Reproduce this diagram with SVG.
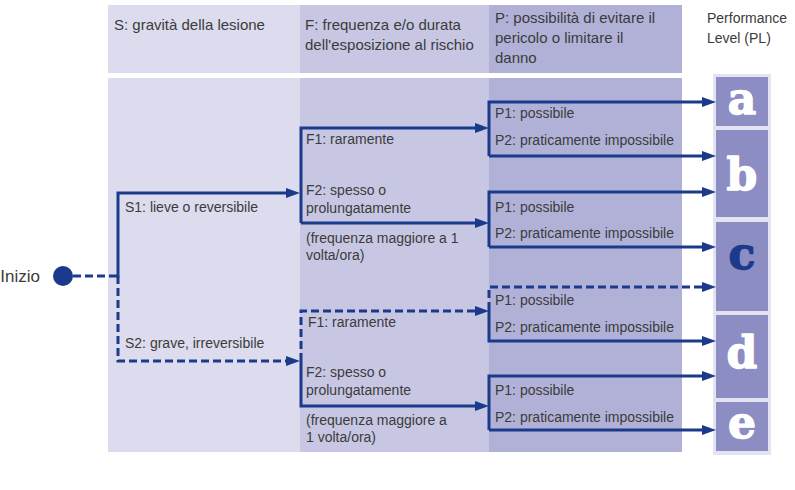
<svg xmlns="http://www.w3.org/2000/svg" width="795" height="490" viewBox="0 0 795 490">
  <defs>
    <style>
      .t { font-family: "Liberation Sans", Arial, sans-serif; font-size: 14px; fill: #3b3b3b; }
      .h { font-family: "Liberation Sans", Arial, sans-serif; font-size: 15px; fill: #3b3b3b; }
      .pl { font-family: "DejaVu Serif", "Liberation Serif", serif; font-size: 44px; font-weight: bold; text-anchor: middle; stroke-width: 1.4; stroke-linejoin: round; }
      .w { fill: #ffffff; stroke: #ffffff; }
      .k { fill: #1b3a8c; stroke: #1b3a8c; }
      .colS { fill: #dcdcee; }
      .colF { fill: #c7c7e3; }
      .colP { fill: #b1b1d7; }
      .box { fill: #8b8dc3; }
      .ln { fill: none; stroke: #1b3a8c; stroke-width: 3; stroke-linejoin: miter; }
      .d { stroke-dasharray: 8 4; }
      .arr { marker-end: url(#ah); }
    </style>
    <marker id="ah" markerUnits="userSpaceOnUse" markerWidth="14" markerHeight="10" refX="4" refY="5" orient="auto">
      <path d="M0,0 L14,5 L0,10 z" fill="#1b3a8c"/>
    </marker>
  </defs>

  <rect width="795" height="490" fill="#ffffff"/>

  <g id="columns">
    <rect class="colS" x="108" y="5" width="192" height="68"/>
    <rect class="colF" x="300" y="5" width="189" height="68"/>
    <rect class="colP" x="489" y="5" width="193" height="68"/>
    <rect class="colS" x="108" y="78" width="192" height="374"/>
    <rect class="colF" x="300" y="78" width="189" height="374"/>
    <rect class="colP" x="489" y="78" width="193" height="374"/>
  </g>

  <g id="headers">
    <text class="h" x="114" y="30">S: gravità della lesione</text>
    <text class="h" x="305" y="30">F: frequenza e/o durata</text>
    <text class="h" x="305" y="50">dell'esposizione al rischio</text>
    <text class="h" x="495" y="23">P: possibilità di evitare il</text>
    <text class="h" x="495" y="43">pericolo o limitare il</text>
    <text class="h" x="495" y="63">danno</text>
    <text class="t" x="707" y="23">Performance</text>
    <text class="t" x="707" y="43">Level (PL)</text>
  </g>

  <g id="pl-frame">
    <rect x="713" y="74" width="58" height="381" fill="#e3e3f1"/>
  </g>
  <g id="pl-a"><rect class="box" x="716" y="77" width="52" height="49"/><text class="pl w" x="742" y="114">a</text></g>
  <g id="pl-b"><rect class="box" x="716" y="130" width="52" height="87"/><text class="pl w" x="742" y="190">b</text></g>
  <g id="pl-c"><rect class="box" x="716" y="222" width="52" height="89"/><text class="pl k" x="742" y="269">c</text></g>
  <g id="pl-d"><rect class="box" x="716" y="315" width="52" height="83"/><text class="pl w" x="742" y="368">d</text></g>
  <g id="pl-e"><rect class="box" x="716" y="402" width="52" height="49"/><text class="pl w" x="742" y="438">e</text></g>

  <g id="start">
    <circle cx="63" cy="276" r="10" fill="#1b3a8c"/>
    <text x="40" y="282" text-anchor="end" style="font-family: 'Liberation Sans', Arial, sans-serif; font-size: 17px; fill: #3b3b3b;">Inizio</text>
  </g>

  <g id="s-labels">
    <text class="t" x="125" y="212">S1: lieve o reversibile</text>
    <text class="t" x="125" y="348">S2: grave, irreversibile</text>
  </g>

  <g id="f-upper">
    <text class="t" x="306" y="144">F1: raramente</text>
    <text class="t" x="306" y="195">F2: spesso o</text>
    <text class="t" x="306" y="213">prolungatamente</text>
    <text class="t" x="306" y="243">(frequenza maggiore a 1</text>
    <text class="t" x="306" y="260">volta/ora)</text>
  </g>

  <g id="f-lower">
    <text class="t" x="308" y="327">F1: raramente</text>
    <text class="t" x="306" y="377">F2: spesso o</text>
    <text class="t" x="306" y="395">prolungatamente</text>
    <text class="t" x="306" y="425">(frequenza maggiore a</text>
    <text class="t" x="306" y="442">1 volta/ora)</text>
  </g>

  <g id="p-1">
    <text class="t" x="495" y="118">P1: possibile</text>
    <text class="t" x="495" y="145">P2: praticamente impossibile</text>
  </g>
  <g id="p-2">
    <text class="t" x="495" y="212">P1: possibile</text>
    <text class="t" x="495" y="238">P2: praticamente impossibile</text>
  </g>
  <g id="p-3">
    <text class="t" x="495" y="305">P1: possibile</text>
    <text class="t" x="495" y="332">P2: praticamente impossibile</text>
  </g>
  <g id="p-4">
    <text class="t" x="495" y="395">P1: possibile</text>
    <text class="t" x="495" y="422">P2: praticamente impossibile</text>
  </g>

  <g id="connectors">
    <path class="ln d" d="M73,276 H118"/>
    <path class="ln arr" d="M118,277.5 V193 H290"/>
    <path class="ln d arr" d="M118,276 V361 H290"/>

    <path class="ln arr" d="M301,223 V128 H479"/>
    <path class="ln arr" d="M301,223 H479"/>

    <path class="ln d arr" d="M301,361 V311 H479"/>
    <path class="ln arr" d="M301,361 V406 H479"/>

    <path class="ln arr" d="M489,156 V102 H706"/>
    <path class="ln arr" d="M489,156 H706"/>

    <path class="ln arr" d="M489,247 V192 H706"/>
    <path class="ln arr" d="M489,247 H706"/>

    <path class="ln d arr" d="M489,310 V287 H706"/>
    <path class="ln arr" d="M489,310 V341 H706"/>

    <path class="ln arr" d="M489,430 V376 H706"/>
    <path class="ln arr" d="M489,430 H706"/>
  </g>
</svg>
